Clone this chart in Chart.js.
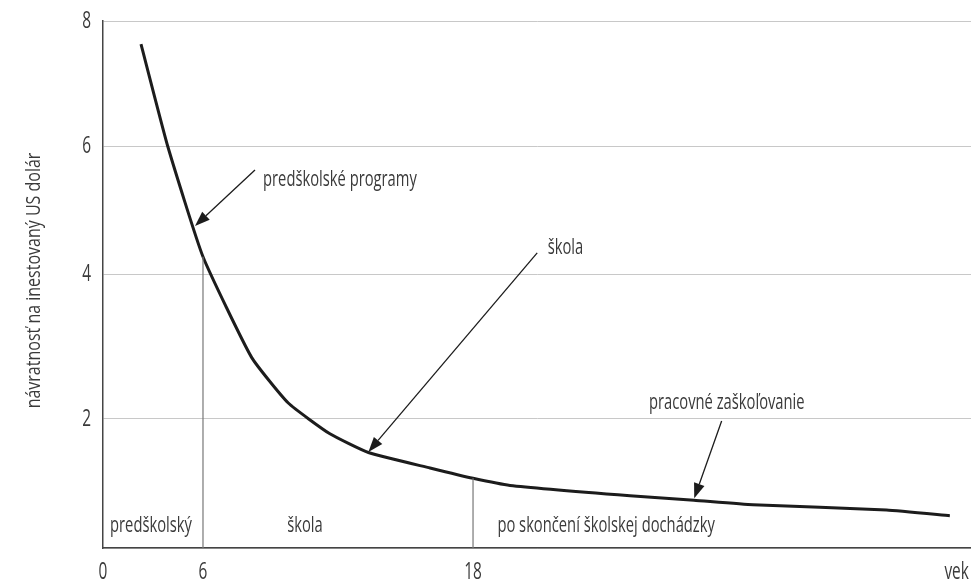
<!DOCTYPE html>
<html>
<head>
<meta charset="utf-8">
<script src="https://cdn.jsdelivr.net/npm/chart.js@4"></script>
<style>
  html, body { margin: 0; padding: 0; background: #fff; }
  #wrap { width: 971px; height: 582px; }
</style>
</head>
<body>
<div id="wrap"><canvas id="chart" width="971" height="582"></canvas></div>
<script>
// ── Data ─────────────────────────────────────────────────────────────────
const AGES    = [2.28, 3.88, 6.0, 8.16, 9.79, 11.64, 13.35, 16.09, 18.0, 21.86, 34.39, 41.07, 47.23, 61.18, 67.79];
const RETURNS = [7.63, 6.0, 4.27, 2.85, 2.22, 1.77, 1.48, 1.24, 1.08, 0.97, 0.81, 0.74, 0.67, 0.59, 0.50];

const X_TICKS       = [0, 6, 18, 68.5];
const X_TICK_LABELS = ['0', '6', '18', 'vek'];
const Y_TICKS       = [0, 2, 4, 6, 8];
const Y_TICK_LABELS = ['', '2', '4', '6', '8'];

const STAGE_BOUNDS  = [6, 18];
const STAGE_LABELS  = ['predškolský', 'škola', 'po skončení školskej dochádzky'];
const STAGE_LABEL_X = [2.88, 10.53, 31.9];
const STAGE_LABEL_Y = 0.34;

const CALLOUT_TEXT    = ['predškolské programy', 'škola', 'pracovné zaškoľovanie'];
const CALLOUT_TEXT_AT = [[8.67, 5.47], [25.8, 4.41], [44.5, 2.23]];
const CALLOUT_ALIGN   = ['left', 'left', 'center'];
const CALLOUT_FROM    = [[8.31, 5.625], [24.7, 4.33], [43.96, 1.97]];
const CALLOUT_TO      = [[5.52, 4.75], [13.35, 1.49], [41.1, 0.77]];

const Y_TITLE = 'návratnosť na inestovaný US dolár';

// ── Uneven axes: piecewise-linear value → decimal mapping ───────────────
const WARP = {
  x: [[0, 0], [6, 0.1152], [18, 0.4263], [70, 1]],
  y: [[0, 0], [2, 0.2448], [4, 0.5199], [6, 0.7628], [8, 1]],
};

function lerpPairs(pairs, v, from, to) {
  for (let i = 1; i < pairs.length; i++) {
    const a = pairs[i - 1], b = pairs[i];
    if (v <= b[from] || i === pairs.length - 1) {
      const t = (v - a[from]) / (b[from] - a[from]);
      return a[to] + t * (b[to] - a[to]);
    }
  }
  return v;
}

class WarpScale extends Chart.LinearScale {
  static id = 'warp';
  static defaults = { ticks: { callback: Chart.Ticks.formatters.numeric } };

  getPixelForValue(value) {
    if (value === null || value === undefined) return NaN;
    return this.getPixelForDecimal(lerpPairs(WARP[this.axis], value, 0, 1));
  }
  getValueForPixel(pixel) {
    return lerpPairs(WARP[this.axis], this.getDecimalForPixel(pixel), 1, 0);
  }
}
Chart.register(WarpScale);

// ── Style ────────────────────────────────────────────────────────────────
const FONT    = '"Open Sans", "Noto Sans", sans-serif';
const SQUEEZE = 0.67;   // the original face is a condensed one
const INK     = '#1c1c1c';
const TEXT    = '#3a3a3a';
const AXIS    = '#444';
const GRID    = '#c8c8c8';

function drawText(ctx, str, x, y, align, size = 22, rotate = 0, squeeze = SQUEEZE) {
  ctx.save();
  ctx.translate(x, y);
  if (rotate) ctx.rotate(rotate);
  ctx.scale(squeeze, 1);
  ctx.font = `${size}px ${FONT}`;
  ctx.fillStyle = TEXT;
  ctx.textAlign = align;
  ctx.textBaseline = 'middle';
  ctx.fillText(str, 0, 0);
  ctx.restore();
}

function drawArrow(ctx, x1, y1, x2, y2) {
  const ang = Math.atan2(y2 - y1, x2 - x1);
  const len = 15, half = 5.5;
  const bx = x2 - Math.cos(ang) * len, by = y2 - Math.sin(ang) * len;
  ctx.save();
  ctx.strokeStyle = INK;
  ctx.fillStyle = INK;
  ctx.lineWidth = 1.3;
  ctx.beginPath();
  ctx.moveTo(x1, y1);
  ctx.lineTo(bx, by);
  ctx.stroke();
  ctx.beginPath();
  ctx.moveTo(x2, y2);
  ctx.lineTo(bx + Math.sin(ang) * half, by - Math.cos(ang) * half);
  ctx.lineTo(bx - Math.sin(ang) * half, by + Math.cos(ang) * half);
  ctx.closePath();
  ctx.fill();
  ctx.restore();
}

const annotations = {
  id: 'annotations',
  afterDatasetsDraw(chart) {
    const { ctx, chartArea, scales: { x, y } } = chart;

    // tick labels, condensed to match the original face
    X_TICKS.forEach((v, i) => {
      drawText(ctx, X_TICK_LABELS[i], x.getPixelForTick(i), chartArea.bottom + 24, 'center', 23);
    });
    Y_TICKS.forEach((v, i) => {
      drawText(ctx, Y_TICK_LABELS[i], chartArea.left - 12, y.getPixelForTick(i), 'right', 23);
    });

    STAGE_LABELS.forEach((s, i) => {
      drawText(ctx, s, x.getPixelForValue(STAGE_LABEL_X[i]), y.getPixelForValue(STAGE_LABEL_Y), 'center');
    });
    CALLOUT_TEXT.forEach((s, i) => {
      const [tx, ty] = CALLOUT_TEXT_AT[i];
      drawText(ctx, s, x.getPixelForValue(tx), y.getPixelForValue(ty), CALLOUT_ALIGN[i]);
      drawArrow(ctx,
        x.getPixelForValue(CALLOUT_FROM[i][0]), y.getPixelForValue(CALLOUT_FROM[i][1]),
        x.getPixelForValue(CALLOUT_TO[i][0]),   y.getPixelForValue(CALLOUT_TO[i][1]));
    });
    // rotated y-axis title
    drawText(ctx, Y_TITLE, chartArea.left - 69, (chartArea.top + chartArea.bottom) / 2 - 4,
      'center', 20, -Math.PI / 2, 0.8);
  },
};

// ── Chart ────────────────────────────────────────────────────────────────
const curve = AGES.map((a, i) => ({ x: a, y: RETURNS[i] }));
const dividers = STAGE_BOUNDS.map(b => ({
  data: [{ x: b, y: 0 }, { x: b, y: RETURNS[AGES.indexOf(b)] }],
  borderColor: '#777',
  borderWidth: 1.2,
  pointRadius: 0,
}));

new Chart(document.getElementById('chart'), {
  type: 'line',
  data: {
    datasets: [
      ...dividers,
      {
        data: curve,
        borderColor: INK,
        borderWidth: 3,
        pointRadius: 0,
        tension: 0.15,
      },
    ],
  },
  options: {
    responsive: false,
    animation: false,
    events: [],
    layout: { padding: { top: 21, right: 0, bottom: 0, left: 0 } },
    plugins: { legend: { display: false }, tooltip: { enabled: false } },
    scales: {
      x: {
        type: 'warp',
        min: 0,
        max: 70,
        afterBuildTicks: s => { s.ticks = X_TICKS.map(v => ({ value: v })); },
        afterFit: s => { s.height = 34; s.paddingLeft = 0; s.paddingRight = 0; },
        grid: { display: false },
        border: { display: true, color: AXIS, width: 1.5 },
        ticks: { display: false },
      },
      y: {
        type: 'warp',
        min: 0,
        max: 8,
        afterBuildTicks: s => { s.ticks = Y_TICKS.map(v => ({ value: v })); },
        afterFit: s => { s.width = 103; s.paddingTop = 0; s.paddingBottom = 0; },
        grid: { color: GRID, lineWidth: 1, drawTicks: false },
        border: { display: true, color: AXIS, width: 1.5 },
        ticks: { display: false },
      },
    },
  },
  plugins: [annotations],
});
</script>
</body>
</html>
